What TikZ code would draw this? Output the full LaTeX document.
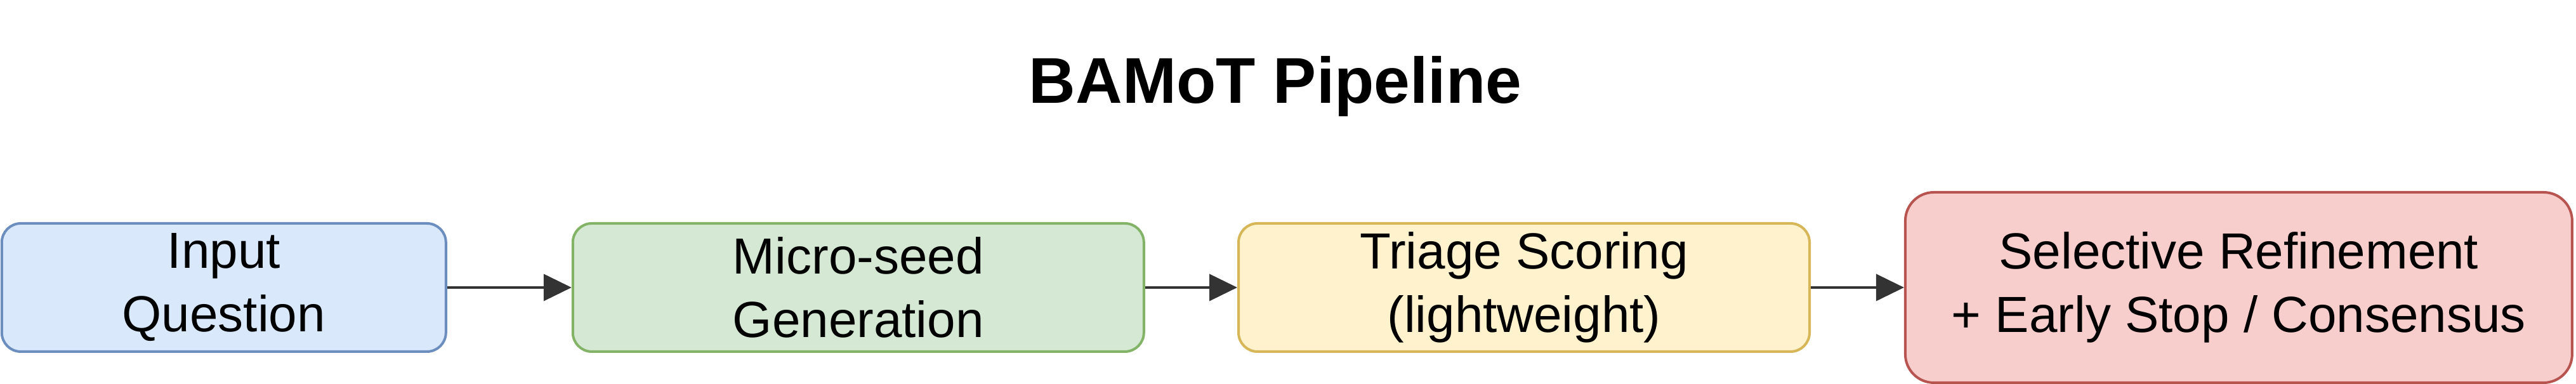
\documentclass[tikz,border=0pt]{standalone}
\usepackage{fontspec}
\setmainfont{Liberation Sans}
\usetikzlibrary{arrows.meta}
\definecolor{bluefill}{HTML}{DAE8FC}
\definecolor{bluedraw}{HTML}{6C8EBF}
\definecolor{greenfill}{HTML}{D5E8D4}
\definecolor{greendraw}{HTML}{82B366}
\definecolor{yellowfill}{HTML}{FFF2CC}
\definecolor{yellowdraw}{HTML}{D6B656}
\definecolor{redfill}{HTML}{F8CECC}
\definecolor{reddraw}{HTML}{B85450}
\definecolor{arrowgray}{HTML}{333333}
\begin{document}
\begin{tikzpicture}[x=1pt,y=1pt,
  box/.style={draw, line width=1pt, rounded corners=7.5pt, align=center,
    font=\fontsize{20}{25}\selectfont, inner sep=0pt, minimum height=50.5pt},
  link/.style={draw=arrowgray, line width=1pt, -{Triangle[length=11pt,width=10.5pt]}}]
\useasboundingbox (0,0) rectangle (1015,151.25);
\node[font=\bfseries\fontsize{25.5}{30}\selectfont, anchor=base] (title) at (502.5,110.5) {BAMoT Pipeline};
\node[box, fill=bluefill, draw=bluedraw, minimum width=175pt] (input) at (88.2,38) {Input\\Question};
\node[box, fill=greenfill, draw=greendraw, minimum width=225pt] (seed) at (338.2,38) {Micro-seed\\Generation};
\node[box, fill=yellowfill, draw=yellowdraw, minimum width=225pt] (triage) at (600.5,38) {Triage Scoring\\(lightweight)};
\node[box, fill=redfill, draw=reddraw, minimum width=262.75pt, minimum height=75pt, rounded corners=11.25pt] (refine) at (882.1,38) {Selective Refinement\\+ Early Stop / Consensus};
\draw[link] (input) -- (seed);
\draw[link] (seed) -- (triage);
\draw[link] (triage) -- (refine);
\end{tikzpicture}
\end{document}
